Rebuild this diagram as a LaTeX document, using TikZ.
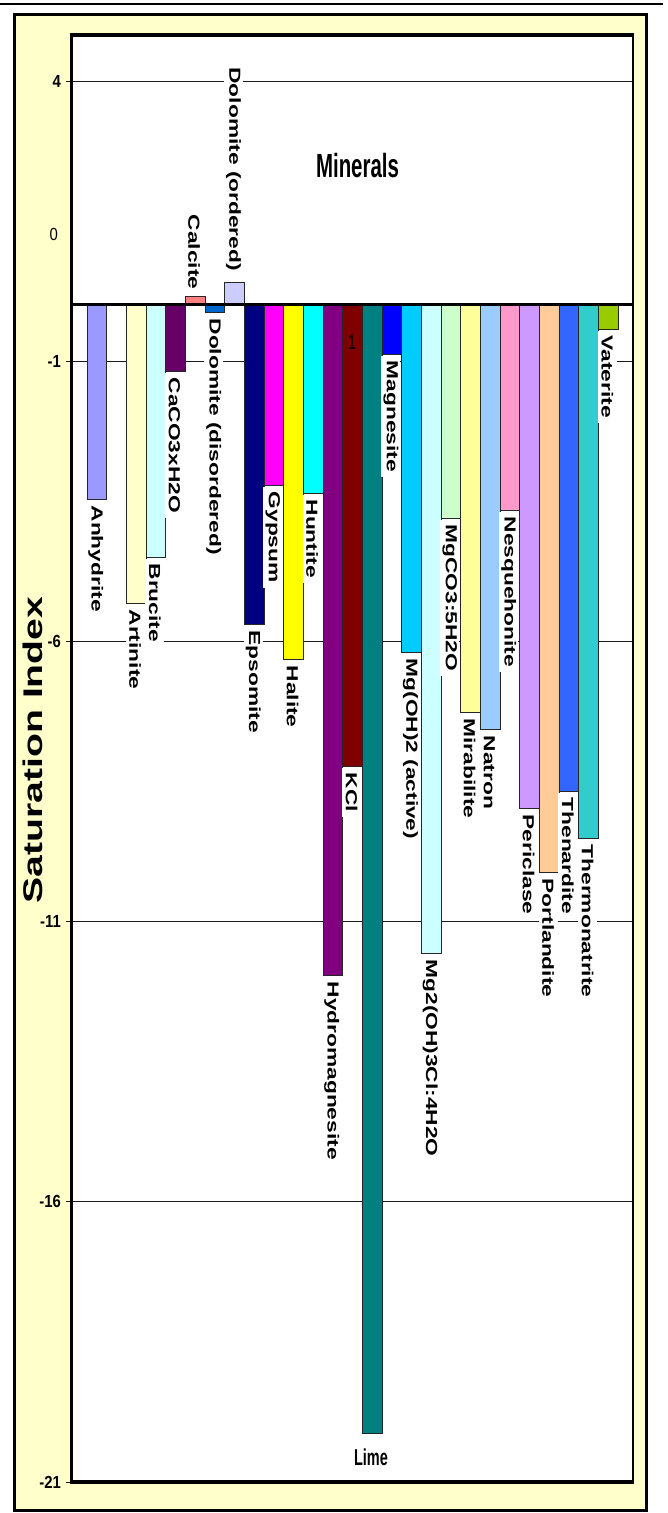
\documentclass[tikz,border=0pt]{standalone}
\usepackage{fontspec}
\setmainfont{Liberation Sans}
\newfontfamily\lblfont[FakeStretch=1.42]{Liberation Sans}
\newfontfamily\satfont[FakeStretch=1.45]{Liberation Sans}
\newfontfamily\titlefont[FakeStretch=0.61]{Liberation Sans}
\newfontfamily\limefont[FakeStretch=0.63]{Liberation Sans}
\newfontfamily\axfont[FakeStretch=0.85]{Liberation Sans}
\newfontfamily\onefont[FakeStretch=0.7]{Liberation Sans}
\definecolor{frameyellow}{HTML}{FFFFCC}
\definecolor{cAnh}{HTML}{9999FF}
\definecolor{cArt}{HTML}{FFFFCC}
\definecolor{cBru}{HTML}{CCFFFF}
\definecolor{cCaC}{HTML}{660066}
\definecolor{cCal}{HTML}{FF8080}
\definecolor{cDdis}{HTML}{0066CC}
\definecolor{cDord}{HTML}{CCCCFF}
\definecolor{cEps}{HTML}{000080}
\definecolor{cGyp}{HTML}{FF00FF}
\definecolor{cHal}{HTML}{FFFF00}
\definecolor{cHun}{HTML}{00FFFF}
\definecolor{cHyd}{HTML}{800080}
\definecolor{cKCl}{HTML}{800000}
\definecolor{cLim}{HTML}{008080}
\definecolor{cMgs}{HTML}{0000FF}
\definecolor{cMgOH}{HTML}{00CCFF}
\definecolor{cMg2}{HTML}{CCFFFF}
\definecolor{cMgC}{HTML}{CCFFCC}
\definecolor{cMir}{HTML}{FFFF99}
\definecolor{cNat}{HTML}{99CCFF}
\definecolor{cNes}{HTML}{FF99CC}
\definecolor{cPer}{HTML}{CC99FF}
\definecolor{cPor}{HTML}{FFCC99}
\definecolor{cThe}{HTML}{3366FF}
\definecolor{cThm}{HTML}{33CCCC}
\definecolor{cVat}{HTML}{99CC00}
\begin{document}
\begin{tikzpicture}[x=1pt,y=-1pt,
  barline/.style={draw=black!85, line width=0.8pt},
  gridline/.style={draw=black!90, line width=0.9pt},
  lbl/.style={rotate=-90, fill=white, inner xsep=5pt, inner ysep=0pt,
    minimum height=19pt, font=\lblfont\bfseries\fontsize{16}{16}\selectfont},
  axlbl/.style={inner sep=0pt, font=\axfont\bfseries\fontsize{17.5}{17.5}\selectfont},
  axzero/.style={inner sep=0pt, font=\axfont\fontsize{17.5}{17.5}\selectfont}]
\useasboundingbox (0,0) rectangle (667,1513);
\fill[white] (0,0) rectangle (667,1513);
% top rule
\draw[line width=2.5pt] (0,4) -- (663,4);
% outer frame
\draw[line width=3pt, fill=frameyellow] (14.5,14.5) rectangle (646.5,1510.5);
% plot area
\fill[white] (71,35) rectangle (633,1482);
% grid lines with ticks
\foreach \gy in {81.7,361.5,641.5,921.5,1201.5}
  \draw[gridline] (66,\gy) -- (633,\gy);
\draw[gridline] (66,1482) -- (71,1482);
% bars
\foreach \i/\c/\y in {0/cAnh/499,2/cArt/603,3/cBru/557,4/cCaC/371,6/cDdis/312,
  8/cEps/624,9/cGyp/485,10/cHal/659,11/cHun/493,12/cHyd/975,13/cKCl/766,
  14/cLim/1433,15/cMgs/354,16/cMgOH/652,17/cMg2/953,18/cMgC/518,19/cMir/712,
  20/cNat/729,21/cNes/510,22/cPer/808,23/cPor/872,24/cThe/791,25/cThm/838,
  26/cVat/329,5/cCal/296,7/cDord/282}{
  \pgfmathsetmacro\xa{87+19.67*\i}
  \draw[barline, fill=\c] (\xa,304.5) rectangle ({\xa+19.67},\y);
}
% zero line
\draw[line width=3pt] (71,304.5) -- (633,304.5);
% labels below negative bars
\foreach \i/\y/\t in {0/499/Anhydrite,2/603/Artinite,3/557/Brucite,4/371/CaCO3xH2O,
  6/312/Dolomite (disordered),8/624/Epsomite,9/485/Gypsum,10/659/Halite,
  11/493/Huntite,12/975/Hydromagnesite,13/766/KCl,15/354/Magnesite,
  16/652/Mg(OH)2 (active),17/953/Mg2(OH)3Cl:4H2O,18/518/MgCO3:5H2O,
  19/712/Mirabilite,20/729/Natron,21/510/Nesquehonite,22/808/Periclase,
  23/872/Portlandite,24/791/Thenardite,25/838/Thermonatrite,26/329/Vaterite}{
  \pgfmathsetmacro\xc{87+19.67*\i+8.8}
  \node[lbl, anchor=west] (lab\i) at (\xc,{\y+1.5}) {\t};
}
% labels above positive bars
\node[lbl, anchor=east] (lab5) at ({87+19.67*5+8.8},294.5) {Calcite};
\node[lbl, anchor=east] (lab7) at ({87+19.67*7+8.8},276) {Dolomite (ordered)};
% Lime label
\node[inner sep=0pt, anchor=base, font=\limefont\bfseries\fontsize{23}{23}\selectfont]
  (lab14) at (371,1465) {Lime};
% stray "1" inside KCl bar
\node[inner sep=0pt, font=\onefont\fontsize{21}{21}\selectfont] (one) at (352,342) {1};
% plot frame
\draw[line width=2pt] (71,35) rectangle (633,1482);
\draw[line width=3pt] (71,35) -- (71,1482);
\draw[line width=4pt] (70,35) -- (634,35);
\draw[line width=4pt] (70,1482) -- (634,1482);
% title
\node[inner sep=0pt, anchor=base, font=\titlefont\bfseries\fontsize{33.5}{33.5}\selectfont]
  (title) at (357.5,177) {Minerals};
% axis title
\node[inner sep=0pt, rotate=90, font=\satfont\bfseries\fontsize{27}{27}\selectfont]
  (ytitle) at (33,750) {Saturation Index};
% axis numbers
\node[axlbl, anchor=base east] (y4) at (61,87.9) {4};
\node[axzero, anchor=base east] (y0) at (58,240) {0};
\node[axlbl, anchor=base east] (ym1) at (61,367.7) {-1};
\node[axlbl, anchor=base east] (ym6) at (61,647.7) {-6};
\node[axlbl, anchor=base east] (ym11) at (61,927.7) {-11};
\node[axlbl, anchor=base east] (ym16) at (61,1207.7) {-16};
\node[axlbl, anchor=base east] (ym21) at (61,1488.2) {-21};
\end{tikzpicture}
\end{document}
